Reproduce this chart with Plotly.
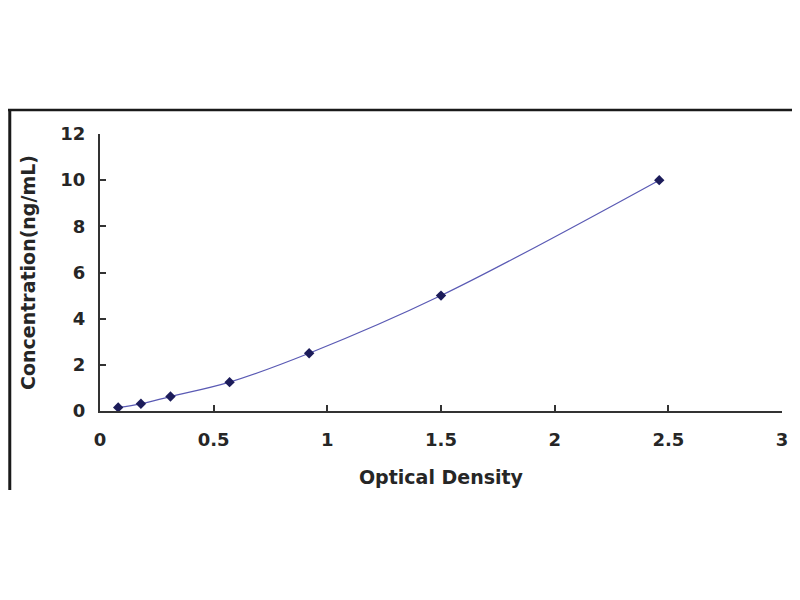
import plotly.graph_objects as go

# standard curve
optical_density = [0.08, 0.18, 0.31, 0.57, 0.92, 1.50, 2.46]
concentration = [0.156, 0.312, 0.625, 1.25, 2.5, 5.0, 10.0]

x_ticks = [0, 0.5, 1, 1.5, 2, 2.5, 3]
y_ticks = [0, 2, 4, 6, 8, 10, 12]

font_family = "DejaVu Sans"
text_color = "#262626"

fig = go.Figure()

# fitted curve
fig.add_trace(go.Scatter(
    x=optical_density, y=concentration,
    mode="lines",
    line=dict(color="#5a5ab4", width=1.2, shape="spline", smoothing=1.0),
    hoverinfo="skip",
))

# standard points
fig.add_trace(go.Scatter(
    x=optical_density, y=concentration,
    mode="markers",
    marker=dict(symbol="diamond", size=8, color="#1c1c5a"),
))

axis_style = dict(
    showgrid=False, zeroline=False,
    showline=True, linecolor="#333333", linewidth=2,
    ticks="inside", ticklen=6, tickwidth=1.5, tickcolor="#333333",
    tickfont=dict(family=font_family, size=18, color=text_color),
)

# page is drawn 8px in from the window edge, so sizes are trimmed to fit
fig.update_layout(
    width=792, height=592,
    paper_bgcolor="white", plot_bgcolor="white",
    showlegend=False,
    margin=dict(l=92, r=16, t=126, b=189),
    xaxis=dict(
        range=[0, 3], tickvals=x_ticks,
        ticktext=[f"<b>{v:g}</b>" for v in x_ticks],
        ticklabelstandoff=11,
        title=dict(text="<b>Optical Density</b>", standoff=22,
                   font=dict(family=font_family, size=19, color=text_color)),
        **axis_style,
    ),
    yaxis=dict(
        range=[0, 12], tickvals=y_ticks,
        ticktext=[f"<b>{v}</b>" for v in y_ticks],
        ticklabelstandoff=9,
        title=dict(text="<b>Concentration(ng/mL)</b>", standoff=20,
                   font=dict(family=font_family, size=19, color=text_color)),
        **axis_style,
    ),
)

# outer frame lines (top and left edge of the original figure box)
fig.add_shape(type="line", xref="paper", yref="paper",
              x0=-0.14, x1=1.03, y0=1.0866, y1=1.0866,
              line=dict(color="#1a1a1a", width=2.5))
fig.add_shape(type="line", xref="paper", yref="paper",
              x0=-0.1323, x1=-0.1323, y0=1.0866, y1=-0.285,
              line=dict(color="#1a1a1a", width=3))

fig.write_html("out.html")
